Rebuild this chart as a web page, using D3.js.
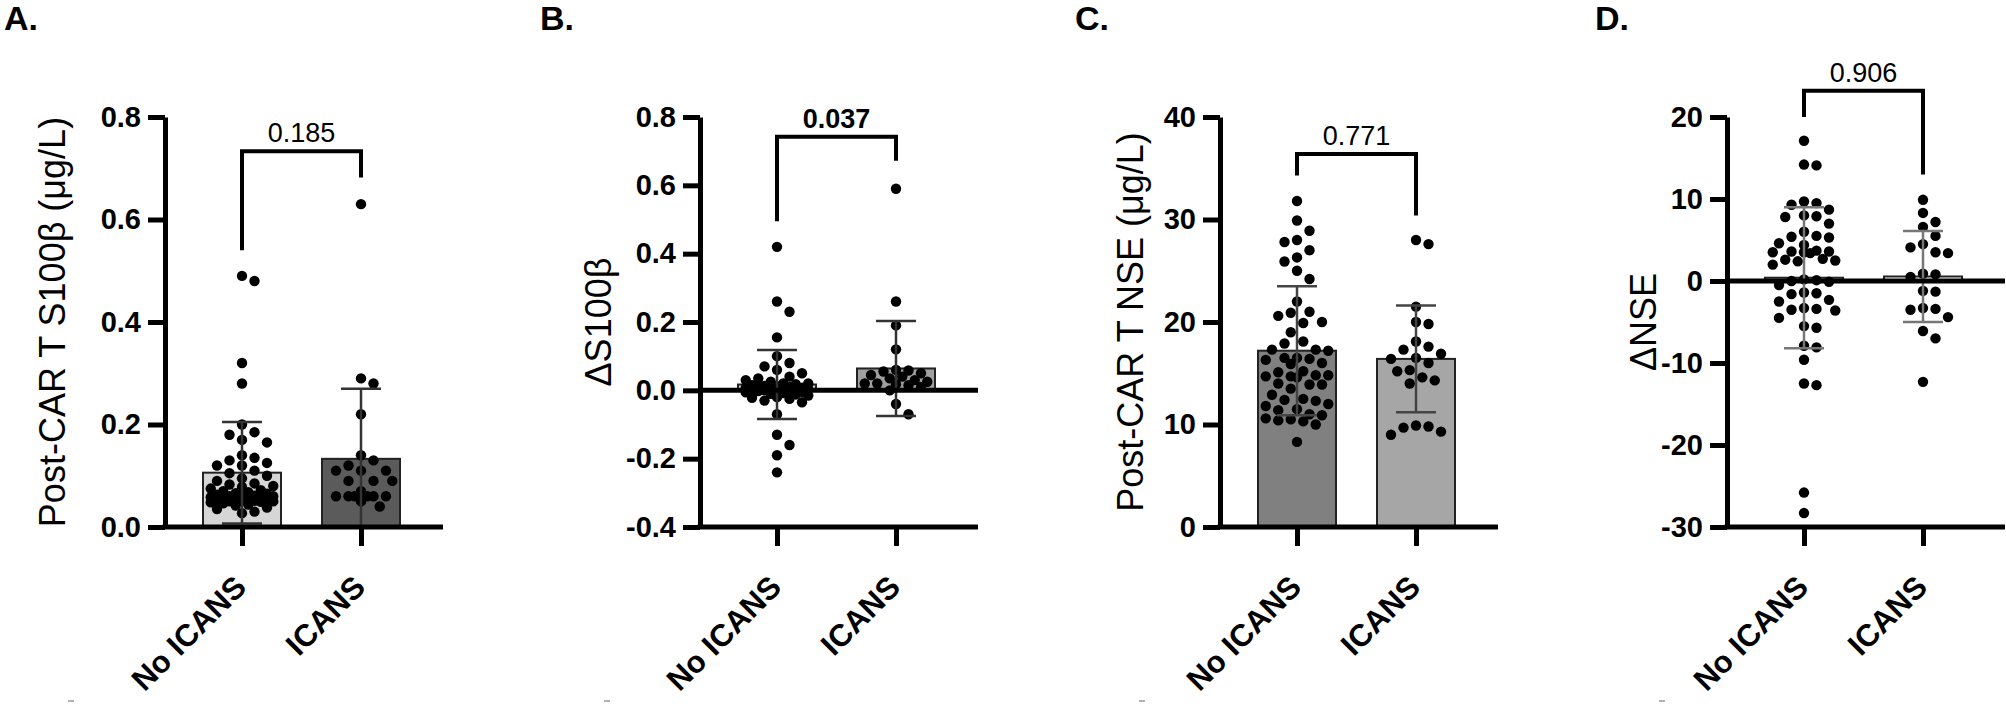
<!DOCTYPE html>
<html>
<head>
<meta charset="utf-8">
<style>
body { margin: 0; background: #fff; }
svg text { font-family: "Liberation Sans", Arial, sans-serif; fill: #000; }
</style>
<script src="https://cdn.jsdelivr.net/npm/d3@7"></script>
</head>
<body>
<svg id="fig" width="2006" height="709"></svg>
<script>
// groups
var categories = ["No ICANS", "ICANS"];

// A. post-CAR T S100b (ug/L)
var s100PostNo = [0.49, 0.48, 0.32, 0.28, 0.20, 0.185, 0.18, 0.17, 0.165, 0.14, 0.135, 0.13, 0.125, 0.12,
  0.12, 0.11, 0.105, 0.10, 0.095, 0.09, 0.085, 0.083, 0.08, 0.078, 0.075, 0.072, 0.07, 0.068, 0.066, 0.065,
  0.063, 0.062, 0.061, 0.06, 0.06, 0.059, 0.058, 0.057, 0.056, 0.055, 0.054, 0.053, 0.052, 0.051, 0.05,
  0.05, 0.049, 0.048, 0.046, 0.044, 0.042, 0.038, 0.035, 0.03, 0.027];
var s100PostIcans = [0.63, 0.29, 0.28, 0.22, 0.14, 0.13, 0.12, 0.11, 0.11, 0.11, 0.09, 0.09, 0.09, 0.07,
  0.06, 0.06, 0.06, 0.06, 0.06, 0.06, 0.05, 0.04];
var s100PostMean = [0.106, 0.133];
var s100PostSd = [0.099, 0.137];

// B. delta S100b
var s100DeltaNo = [0.42, 0.26, 0.23, 0.155, 0.10, 0.08, 0.07, 0.06, 0.05, 0.04, 0.035, 0.03, 0.025, 0.02,
  0.02, 0.018, 0.015, 0.013, 0.012, 0.01, 0.01, 0.008, 0.007, 0.006, 0.005, 0.004, 0.003, 0.002, 0.001,
  0.0, 0.0, -0.002, -0.004, -0.006, -0.008, -0.01, -0.012, -0.015, -0.02, -0.022, -0.025, -0.03, -0.035,
  -0.07, -0.13, -0.16, -0.19, -0.24];
var s100DeltaIcans = [0.59, 0.26, 0.19, 0.12, 0.06, 0.058, 0.055, 0.05, 0.045, 0.04, 0.035, 0.03, 0.025,
  0.02, 0.02, 0.018, 0.015, 0.01, 0.0, -0.04, -0.07];
var s100DeltaMean = [0.017, 0.064];
var s100DeltaSd = [0.101, 0.139];

// C. post-CAR T NSE (ug/L)
var nsePostNo = [31.8, 29.9, 28.9, 28.0, 27.8, 27.0, 26.3, 25.9, 25.0, 24.2, 22.0, 21.0, 20.9, 20.6, 20.0,
  19.9, 19.0, 18.1, 17.9, 17.3, 17.3, 17.2, 16.5, 16.5, 16.4, 16.3, 16.0, 15.9, 15.2, 15.1, 14.8, 14.8,
  14.7, 14.7, 14.6, 14.0, 13.9, 13.9, 13.5, 12.9, 12.5, 12.4, 12.3, 12.0, 11.8, 11.5, 11.4, 11.0, 10.9,
  10.6, 10.5, 10.4, 10.3, 10.0, 8.3];
var nsePostIcans = [28.0, 27.6, 21.5, 20.0, 19.8, 18.1, 17.6, 17.3, 16.9, 16.5, 16.4, 16.0, 15.3, 15.2,
  14.6, 14.3, 14.0, 9.9, 9.8, 9.7, 9.3, 9.0];
var nsePostMean = [17.2, 16.4];
var nsePostSd = [6.3, 5.2];

// D. delta NSE
var nseDeltaNo = [17.1, 14.2, 14.1, 9.7, 9.5, 9.3, 8.7, 8.0, 7.9, 7.8, 7.0, 6.0, 5.5, 5.4, 5.3, 4.6, 4.4,
  3.7, 3.6, 3.6, 3.5, 3.5, 3.4, 2.7, 2.6, 2.5, 2.4, 2.0, 0.2, 0.1, 0.0, -0.1, -0.5, -1.4, -1.5, -1.6,
  -2.3, -2.5, -3.3, -3.4, -3.5, -3.6, -4.5, -5.5, -5.7, -7.9, -8.1, -9.6, -12.5, -12.7, -25.8, -28.3];
var nseDeltaIcans = [9.9, 8.3, 7.2, 6.6, 5.5, 4.5, 4.1, 3.5, 3.4, 0.9, 0.8, 0.5, -1.2, -1.3, -3.3, -3.4,
  -3.5, -4.4, -6.1, -7.0, -12.3];
var nseDeltaMean = [0.4, 0.55];
var nseDeltaSd = [8.6, 5.55];

var pValues = ["0.185", "0.037", "0.771", "0.906"];

var ticksA = [0, 0.2, 0.4, 0.6, 0.8];
var ticksB = [-0.4, -0.2, 0, 0.2, 0.4, 0.6, 0.8];
var ticksC = [0, 10, 20, 30, 40];
var ticksD = [-30, -20, -10, 0, 10, 20];

var panels = [
  { letter: "A.", label: "Post-CAR T S100β (μg/L)", domain: [0, 0.8], ticks: ticksA, fmt: function(d) { return d.toFixed(1); },
    groups: [s100PostNo, s100PostIcans], mean: s100PostMean, sd: s100PostSd, p: pValues[0], bold: false,
    bracket: [0.733, 0.54, 0.682], fills: ["#d6d6d6", "#5b5b5b"], err: "#333",
    ax: 165, lx: 4, yl: 52 },
  { letter: "B.", label: "ΔS100β", domain: [-0.4, 0.8], ticks: ticksB, fmt: function(d) { return d.toFixed(1); },
    groups: [s100DeltaNo, s100DeltaIcans], mean: s100DeltaMean, sd: s100DeltaSd, p: pValues[1], bold: true,
    bracket: [0.742, 0.495, 0.672], fills: ["#d6d6d6", "#a0a0a0"], err: "#333",
    ax: 700, lx: 540, yl: 598 },
  { letter: "C.", label: "Post-CAR T NSE (μg/L)", domain: [0, 40], ticks: ticksC, fmt: function(d) { return String(d); },
    groups: [nsePostNo, nsePostIcans], mean: nsePostMean, sd: nsePostSd, p: pValues[2], bold: false,
    bracket: [36.4, 34.3, 30.4], fills: ["#808080", "#a6a6a6"], err: "#444",
    ax: 1220, lx: 1075, yl: 1130 },
  { letter: "D.", label: "ΔNSE", domain: [-30, 20], ticks: ticksD, fmt: function(d) { return String(d); },
    groups: [nseDeltaNo, nseDeltaIcans], mean: nseDeltaMean, sd: nseDeltaSd, p: pValues[3], bold: false,
    bracket: [23.2, 20.0, 13.0], fills: ["#ffffff", "#ffffff"], err: "#777",
    ax: 1727, lx: 1595, yl: 1643 }
];

var svg = d3.select("#fig");
var plotTop = 117, plotBottom = 527, dotR = 5.2;

// beeswarm: nearest free offset from the centre, kept inside +/- maxHalf;
// when the row is full the least crowded offset is used (dots overlap, as in Prism)
function swarm(values, y, maxHalf) {
  var placed = [], minD = 12.5, step = 6.25;
  values.slice().sort(d3.descending).forEach(function(v) {
    var py = y(v), best = null, bestD = -1;
    for (var k = 0; ; k++) {
      var off = k === 0 ? 0 : (k % 2 ? (k + 1) / 2 : -k / 2) * step;
      if (Math.abs(off) > maxHalf) break;
      var dmin = d3.min(placed, function(p) { return Math.hypot(p.x - off, p.y - py); });
      if (dmin === undefined || dmin >= minD) { best = off; break; }
      if (dmin > bestD + 0.5) { bestD = dmin; best = off; }
    }
    placed.push({ x: best, y: py });
  });
  return placed;
}

panels.forEach(function(P) {
  var g = svg.append("g");
  var y = d3.scaleLinear().domain(P.domain).range([plotBottom, plotTop]);
  var x = d3.scalePoint().domain(categories).range([P.ax + 77, P.ax + 196]);
  var xEnd = P.ax + 278;

  g.append("text").attr("x", P.lx).attr("y", 30)
    .style("font-size", "34px").style("font-weight", "bold").text(P.letter);

  g.append("text")
    .attr("transform", "translate(" + P.yl + "," + 322 + ") rotate(-90)")
    .attr("text-anchor", "middle").attr("dy", "0.36em")
    .style("font-size", "36px").text(P.label);

  // bars
  g.selectAll(".bar").data(categories).enter().append("rect")
    .attr("x", function(c) { return x(c) - 39; })
    .attr("width", 78)
    .attr("y", function(c, i) { return y(Math.max(P.mean[i], 0)); })
    .attr("height", function(c, i) { return Math.abs(y(P.mean[i]) - y(0)); })
    .attr("fill", function(c, i) { return P.fills[i]; })
    .attr("stroke", "#222").attr("stroke-width", 2);

  // dots
  categories.forEach(function(c, i) {
    var pts = swarm(P.groups[i], y, 37);
    g.selectAll(null).data(pts).enter().append("circle")
      .attr("cx", function(d) { return x(c) + d.x; })
      .attr("cy", function(d) { return d.y; })
      .attr("r", dotR).attr("fill", "#000");
  });

  // error bars (mean +/- SD)
  categories.forEach(function(c, i) {
    var hi = y(P.mean[i] + P.sd[i]), lo = y(Math.max(P.mean[i] - P.sd[i], P.domain[0]));
    var eg = g.append("g").attr("stroke", P.err).attr("stroke-width", 2.5);
    eg.append("line").attr("x1", x(c)).attr("x2", x(c)).attr("y1", hi).attr("y2", lo);
    eg.append("line").attr("x1", x(c) - 20).attr("x2", x(c) + 20).attr("y1", hi).attr("y2", hi);
    if (P.mean[i] - P.sd[i] > P.domain[0]) {
      eg.append("line").attr("x1", x(c) - 20).attr("x2", x(c) + 20).attr("y1", lo).attr("y2", lo);
    }
  });

  // zero line for delta panels
  if (P.domain[0] < 0) {
    g.append("line").attr("x1", P.ax).attr("x2", xEnd).attr("y1", y(0)).attr("y2", y(0))
      .attr("stroke", "#000").attr("stroke-width", 5);
  }

  // y axis
  var yAxis = g.append("g").attr("transform", "translate(" + P.ax + ",0)")
    .call(d3.axisLeft(y).tickValues(P.ticks).tickFormat(P.fmt).tickSize(17).tickSizeOuter(0).tickPadding(7));
  yAxis.select(".domain").attr("stroke-width", 5);
  yAxis.selectAll(".tick line").attr("stroke-width", 5);
  yAxis.selectAll(".tick text").style("font-size", "29px").style("font-weight", "bold").attr("fill", "#000");

  // x axis
  g.append("line").attr("x1", P.ax - 2.5).attr("x2", xEnd).attr("y1", plotBottom).attr("y2", plotBottom)
    .attr("stroke", "#000").attr("stroke-width", 5);
  var xAxis = g.append("g").attr("transform", "translate(0," + plotBottom + ")")
    .call(d3.axisBottom(x).tickSize(19).tickFormat(""));
  xAxis.select(".domain").remove();
  xAxis.selectAll(".tick line").attr("stroke-width", 5);

  g.selectAll(".xl").data(categories).enter().append("text")
    .attr("transform", function(c) { return "translate(" + (x(c) + 6) + "," + (plotBottom + 62) + ") rotate(-45)"; })
    .attr("text-anchor", "end")
    .style("font-size", "31px").style("font-weight", "bold").text(function(c) { return c; });

  // significance bracket
  var b = P.bracket, x1 = x(categories[0]), x2 = x(categories[1]);
  g.append("path")
    .attr("d", "M" + x1 + "," + y(b[1]) + "V" + y(b[0]) + "H" + x2 + "V" + y(b[2]))
    .attr("fill", "none").attr("stroke", "#000").attr("stroke-width", 4);
  g.append("text").attr("x", (x1 + x2) / 2).attr("y", y(b[0]) - 9)
    .attr("text-anchor", "middle").style("font-size", "27px")
    .style("font-weight", P.bold ? "bold" : "normal").text(P.p);

  // small grey mark under each panel
  g.append("line").attr("x1", P.lx + 64).attr("x2", P.lx + 70).attr("y1", 701).attr("y2", 701)
    .attr("stroke", "#999").attr("stroke-width", 1.5);
});
</script>
</body>
</html>
